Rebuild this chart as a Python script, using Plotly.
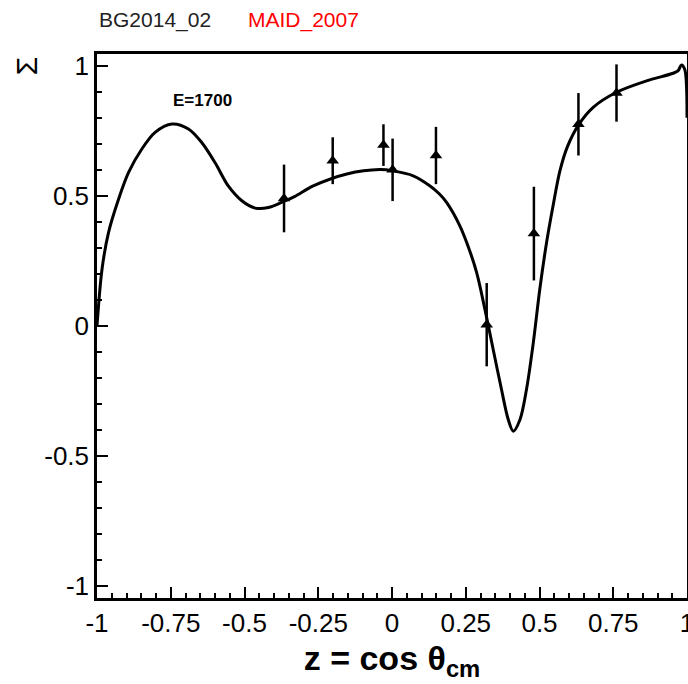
import plotly.graph_objects as go

# MAID_2007 curve
curve_x = [-1.0, -0.983, -0.961, -0.927, -0.893, -0.848, -0.803, -0.746, -0.690, -0.645,
           -0.600, -0.555, -0.509, -0.464, -0.419, -0.368, -0.329, -0.267, -0.153, -0.041,
           0.004, 0.072, 0.129, 0.160, 0.185, 0.230, 0.260, 0.287, 0.315, 0.343, 0.371,
           0.394, 0.411, 0.434, 0.456, 0.479, 0.501, 0.524, 0.546, 0.569, 0.595,
           0.632, 0.682, 0.761, 0.863, 0.953, 0.970, 0.981, 0.992, 1.0]
curve_y = [0.0, 0.218, 0.359, 0.487, 0.59, 0.68, 0.744, 0.776, 0.757, 0.705,
           0.628, 0.538, 0.481, 0.453, 0.455, 0.478, 0.498, 0.538, 0.584, 0.601,
           0.596, 0.577, 0.538, 0.508, 0.475, 0.385, 0.30, 0.205, 0.064, -0.09, -0.243,
           -0.359, -0.404, -0.359, -0.243, -0.064, 0.141, 0.321, 0.462, 0.595, 0.69,
           0.772, 0.84, 0.898, 0.942, 0.971, 0.981, 1.003, 0.987, 0.8]

# BG2014_02 data points
data_x = [-0.366, -0.201, -0.029, 0.002, 0.149, 0.321, 0.481, 0.632, 0.761]
data_y = [0.49, 0.635, 0.695, 0.60, 0.655, 0.005, 0.355, 0.775, 0.895]
data_err = [0.13, 0.09, 0.08, 0.12, 0.11, 0.16, 0.18, 0.12, 0.11]

x_ticks = [-1, -0.75, -0.5, -0.25, 0, 0.25, 0.5, 0.75, 1]
x_tick_labels = ["-1", "-0.75", "-0.5", "-0.25", "0", "0.25", "0.5", "0.75", "1"]
y_ticks = [-1, -0.5, 0, 0.5, 1]
y_tick_labels = ["-1", "-0.5", "0", "0.5", "1"]

FONT = "Liberation Sans, Arial, Helvetica, sans-serif"

fig = go.Figure()
fig.add_trace(go.Scatter(
    x=curve_x, y=curve_y, mode="lines",
    line=dict(color="black", width=3, shape="spline", smoothing=0.9),
    hoverinfo="skip", showlegend=False))
fig.add_trace(go.Scatter(
    x=data_x, y=data_y, mode="markers",
    marker=dict(symbol="triangle-up", size=11, color="black"),
    error_y=dict(type="data", array=data_err, visible=True,
                 color="black", thickness=2.5, width=0),
    showlegend=False))

fig.update_layout(
    width=688, height=684,
    margin=dict(l=97, r=1, t=54, b=86),
    paper_bgcolor="white", plot_bgcolor="white",
    font=dict(family=FONT, color="black"),
    showlegend=False,
    xaxis=dict(
        range=[-1, 1], tickmode="array", tickvals=x_ticks, ticktext=x_tick_labels,
        ticks="inside", ticklen=11, tickwidth=2, tickcolor="black",
        minor=dict(ticks="inside", ticklen=5, tickwidth=1.5, tickcolor="black", dtick=0.05),
        showgrid=False, zeroline=False, ticklabeloverflow="allow", automargin=False,
        showline=True, linecolor="black", linewidth=2.5, mirror=True,
        tickfont=dict(size=26, family=FONT, color="black"),
        title=dict(text="<b>z = cos θ<sub>cm</sub></b>",
                   font=dict(size=34, family=FONT, color="black"), standoff=10),
    ),
    yaxis=dict(
        range=[-1.045, 1.045], tickmode="array", tickvals=y_ticks, ticktext=y_tick_labels,
        ticks="inside", ticklen=11, tickwidth=2, tickcolor="black",
        minor=dict(ticks="inside", ticklen=5, tickwidth=1.5, tickcolor="black", dtick=0.1),
        showgrid=False, zeroline=False, automargin=False,
        showline=True, linecolor="black", linewidth=2.5, mirror=True,
        tickfont=dict(size=26, family=FONT, color="black"),
    ),
    annotations=[
        dict(text="BG2014_02", xref="paper", yref="paper", x=0, y=1, xanchor="left",
             yanchor="bottom", yshift=20, showarrow=False,
             font=dict(size=21, family=FONT, color="#222222")),
        dict(text="MAID_2007", xref="paper", yref="paper", x=0.2525, y=1, xanchor="left",
             yanchor="bottom", yshift=20, showarrow=False,
             font=dict(size=21, family=FONT, color="red")),
        dict(text="<b>E=1700</b>", xref="x", yref="y", x=-0.644, y=0.868,
             showarrow=False, font=dict(size=17, family=FONT, color="black")),
        dict(text="Σ", xref="paper", yref="paper", x=-0.12, y=1, yshift=-12,
             xanchor="center", yanchor="middle", textangle=-90, showarrow=False,
             font=dict(size=30, family=FONT, color="black")),
    ],
)

fig.write_html("out.html")
